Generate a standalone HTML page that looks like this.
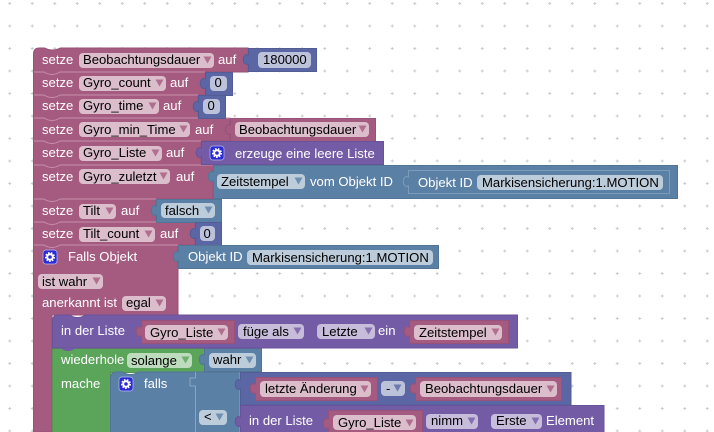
<!DOCTYPE html>
<html><head><meta charset="utf-8"><style>
html,body{margin:0;padding:0;background:#fff;width:714px;height:432px;overflow:hidden}
svg{display:block}
text{font-family:"Liberation Sans",sans-serif;font-size:13.1px;fill:#fff}
.d{fill:#000}
.p{fill:#A55B80;stroke:#96527a}
.m{fill:#5B67A5;stroke:#525d96}
.l{fill:#745BA5;stroke:#68529a}
.g{fill:#5BA55B;stroke:#529652}
.b{fill:#5B80A5;stroke:#527496}
.fp{fill:#DBBDCC}.fm{fill:#BDC2DB}.fl{fill:#C7BDDB}.fg{fill:#BDDBBD}.fb{fill:#BDCCDB}
.ap{fill:#A55B80;opacity:.8}.am{fill:#5B67A5;opacity:.8}.al{fill:#745BA5;opacity:.8}.ag{fill:#5BA55B;opacity:.8}.ab{fill:#5B80A5;opacity:.8}
.n{fill:none;stroke:#c98fab;stroke-width:1}
.s{fill:none;stroke:#8aa6c2;stroke-width:1}
.ic{fill:#2b2bd6;stroke:#b9b9f0;stroke-width:.7}
.gr{fill:none;stroke:#fff;stroke-width:2}
.gd{fill:none;stroke:#fff;stroke-width:2;stroke-dasharray:1.500 1.300}
</style></head><body>
<svg width="714" height="432" viewBox="0 0 714 432" xmlns="http://www.w3.org/2000/svg">
<defs>
<pattern id="grid" x="7.750" y="1.500" width="22.5" height="22.5" patternUnits="userSpaceOnUse">
<path d="M0.500 2H3.500M2 0.500V3.500" stroke="#ccc" stroke-width="1"/>
</pattern>
<path id="ar" d="M0.500 0.500H8.500L4.500 7.500Z"/>
</defs>
<rect width="714" height="432" fill="url(#grid)"/>

<!-- pink stack -->
<path class="p" d="M33.5 54q0-6 6-6h5q8 4 16 0V48H248V72H205V95H198V118H230V141H201V165H213V199H156V222H195V245H178V315H52V432H33.5Z"/>
<path class="n" d="M34 72H44q8 5 16 0H205M34 95H44q8 5 16 0H198M34 118H44q8 5 16 0H230M34 141H44q8 5 16 0H201M34 165H44q8 5 16 0H213M34 199H44q8 5 16 0H156M34 222H44q8 5 16 0H195M34 245H44q8 5 16 0H178"/>

<!-- row 1 -->
<text x="42" y="64">setze</text>
<rect class="fp" x="79" y="53" width="135" height="15" rx="4"/>
<text class="d" x="83" y="64">Beobachtungsdauer</text><use href="#ar" class="ap" x="203" y="56"/>
<text x="218" y="64">auf</text>
<path class="m" d="M248.500 48.500H316.500V71.500H248.500V64c-7 3-7-12 0-9Z"/>
<rect class="fm" x="258" y="52" width="53" height="16" rx="4"/>
<text class="d" x="263" y="64">180000</text>

<!-- row 2 -->
<text x="42" y="87">setze</text>
<rect class="fp" x="79" y="76" width="87" height="15" rx="4"/>
<text class="d" x="83" y="87">Gyro_count</text><use href="#ar" class="ap" x="155" y="79"/>
<text x="170" y="87">auf</text>
<path class="m" d="M205.500 72.500H232.500V95.500H205.500V88c-7 3-7-12 0-9Z"/>
<rect class="fm" x="210" y="76" width="17" height="15" rx="4"/>
<text class="d" x="214.500" y="87">0</text>

<!-- row 3 -->
<text x="42" y="110">setze</text>
<rect class="fp" x="79" y="99" width="80" height="15" rx="4"/>
<text class="d" x="83" y="110">Gyro_time</text><use href="#ar" class="ap" x="148" y="102"/>
<text x="163" y="110">auf</text>
<path class="m" d="M198.500 95.500H225.500V118.500H198.500V111c-7 3-7-12 0-9Z"/>
<rect class="fm" x="203" y="99" width="17" height="15" rx="4"/>
<text class="d" x="207.500" y="110">0</text>

<!-- row 4 -->
<text x="42" y="134">setze</text>
<rect class="fp" x="79" y="122" width="111" height="15" rx="4"/>
<text class="d" x="83" y="134">Gyro_min_Time</text><use href="#ar" class="ap" x="179" y="125"/>
<text x="195" y="134">auf</text>
<path class="p" d="M230.500 118.500H375.500V141.500H230.500V134c-7 3-7-12 0-9Z"/>
<rect class="fp" x="235" y="122" width="134" height="15" rx="4"/>
<text class="d" x="239" y="134">Beobachtungsdauer</text><use href="#ar" class="ap" x="358" y="125"/>

<!-- row 5 -->
<text x="42" y="157">setze</text>
<rect class="fp" x="79" y="146" width="83" height="15" rx="4"/>
<text class="d" x="83" y="157">Gyro_Liste</text><use href="#ar" class="ap" x="151" y="149"/>
<text x="166" y="157">auf</text>
<path class="l" d="M201.500 141.500H383.500V164.500H201.500V157c-7 3-7-12 0-9Z"/>
<rect class="ic" x="210" y="146" width="14" height="14" rx="3"/>
<circle class="gr" cx="217" cy="153" r="2.800"/><circle class="gd" cx="217" cy="153" r="4"/>
<text x="235" y="158">erzeuge eine leere Liste</text>

<!-- row 6 -->
<text x="42" y="181">setze</text>
<rect class="fp" x="79" y="169" width="91" height="15" rx="4"/>
<text class="d" x="83" y="181">Gyro_zuletzt</text><use href="#ar" class="ap" x="159" y="172"/>
<text x="176" y="181">auf</text>
<path class="b" d="M213.500 165.500H677.500V198.500H213.500V181c-7 3-7-12 0-9Z"/>
<rect class="fb" x="217" y="174" width="88" height="15" rx="4"/>
<text class="d" x="221" y="186">Zeitstempel</text><use href="#ar" class="ab" x="294" y="177"/>
<text x="310" y="186">vom Objekt ID</text>
<path class="b" d="M408.500 170.500H669.500V193.500H408.500V186c-7 3-7-12 0-9Z" style="stroke:#7d9cba"/>
<text x="418" y="187">Objekt ID</text>
<rect class="fb" x="477" y="175" width="186" height="15" rx="4"/>
<text class="d" x="482" y="187">Markisensicherung:1.MOTION</text>

<!-- row 7 -->
<text x="42" y="215">setze</text>
<rect class="fp" x="79" y="204" width="37" height="15" rx="4"/>
<text class="d" x="83" y="215">Tilt</text><use href="#ar" class="ap" x="105" y="207"/>
<text x="121" y="215">auf</text>
<path class="b" d="M156.500 199.500H221.500V222.500H156.500V215c-7 3-7-12 0-9Z"/>
<rect class="fb" x="161" y="203" width="54" height="15" rx="4"/>
<text class="d" x="165" y="215">falsch</text><use href="#ar" class="ab" x="204" y="206"/>

<!-- row 8 -->
<text x="42" y="238">setze</text>
<rect class="fp" x="79" y="227" width="76" height="15" rx="4"/>
<text class="d" x="83" y="238">Tilt_count</text><use href="#ar" class="ap" x="144" y="230"/>
<text x="160" y="238">auf</text>
<path class="m" d="M195.500 222.500H221.500V245.500H195.500V238c-7 3-7-12 0-9Z"/>
<rect class="fm" x="200" y="226" width="15" height="15" rx="4"/>
<text class="d" x="203.500" y="238">0</text>

<!-- row 9 -->
<rect class="ic" x="43" y="250" width="14" height="14" rx="3"/>
<circle class="gr" cx="50" cy="257" r="2.800"/><circle class="gd" cx="50" cy="257" r="4"/>
<text x="68" y="261">Falls Objekt</text>
<path class="b" d="M178.500 245.500H438.500V268.500H178.500V261c-7 3-7-12 0-9Z"/>
<text x="188" y="261">Objekt ID</text>
<rect class="fb" x="247" y="250" width="186" height="15" rx="4"/>
<text class="d" x="252" y="262">Markisensicherung:1.MOTION</text>

<!-- row 10/11 -->
<rect class="fp" x="38" y="274" width="65" height="15" rx="4"/>
<text class="d" x="42" y="286">ist wahr</text><use href="#ar" class="ap" x="92" y="277"/>
<text x="42" y="307">anerkannt ist</text>
<rect class="fp" x="122" y="296" width="44" height="15" rx="4"/>
<text class="d" x="126" y="307">egal</text><use href="#ar" class="ap" x="155" y="299"/>

<!-- green -->
<path class="g" d="M52.500 348.500H204.500V372.500H110.500V432.500H52.500Z"/>
<text x="61" y="364">wiederhole</text>
<rect class="fg" x="127" y="353" width="65" height="15" rx="4"/>
<text class="d" x="131" y="365">solange</text><use href="#ar" class="ag" x="181" y="356"/>
<path class="b" d="M204.500 348.500H261.500V371.500H204.500V364c-7 3-7-12 0-9Z"/>
<rect class="fb" x="209" y="353" width="47" height="15" rx="4"/>
<text class="d" x="213" y="364">wahr</text><use href="#ar" class="ab" x="245" y="356"/>
<text x="61" y="388">mache</text>

<!-- purple -->
<path class="l" d="M52.500 321q0-6 6-6h11q8 5 16 0H517.500V348H52.500Z"/>
<path d="M60 348q8 6 16 0Z" fill="#745BA5"/>
<text x="61" y="335">in der Liste</text>
<path class="p" d="M141.500 320.500H234.500V343.500H141.500V336c-7 3-7-12 0-9Z"/>
<rect class="fp" x="145" y="325" width="83" height="15" rx="4"/>
<text class="d" x="150" y="337">Gyro_Liste</text><use href="#ar" class="ap" x="217" y="328"/>
<rect class="fl" x="238" y="324" width="66" height="15" rx="4"/>
<text class="d" x="243" y="336">füge als</text><use href="#ar" class="al" x="293" y="327"/>
<rect class="fl" x="317" y="324" width="58" height="15" rx="4"/>
<text class="d" x="322" y="336">Letzte</text><use href="#ar" class="al" x="364" y="327"/>
<text x="378" y="335">ein</text>
<path class="p" d="M409.500 320.500H508.500V343.500H409.500V336c-7 3-7-12 0-9Z"/>
<rect class="fp" x="414" y="325" width="88" height="15" rx="4"/>
<text class="d" x="419" y="337">Zeitstempel</text><use href="#ar" class="ap" x="491" y="328"/>

<!-- falls -->
<path class="b" d="M110.500 378q0-6 6-6h6q8 5 16 0H240V432.500H110.500Z"/>
<path class="s" d="M195.500 372V378H190V386H195.500V432M240 372V432"/>
<rect class="ic" x="119" y="377" width="14" height="14" rx="3"/>
<circle class="gr" cx="126" cy="384" r="2.800"/><circle class="gd" cx="126" cy="384" r="4"/>
<text x="144" y="388">falls</text>
<rect class="fb" x="199" y="410" width="28" height="15" rx="4"/>
<text class="d" x="204" y="421">&lt;</text><use href="#ar" class="ab" x="215" y="413"/>

<!-- math -->
<path class="m" d="M240.500 372.500H571V405H240.500V389c-7 3-7-12 0-9Z"/>
<path class="p" d="M255.500 377.500H377.500V400.500H255.500V393c-7 3-7-12 0-9Z"/>
<rect class="fp" x="260" y="381" width="111" height="16" rx="4"/>
<text class="d" x="265" y="393">letzte Änderung</text><use href="#ar" class="ap" x="360" y="385"/>
<rect class="fm" x="381" y="381" width="24" height="15" rx="4"/>
<text class="d" x="386" y="393">-</text><use href="#ar" class="am" x="393" y="384"/>
<path class="p" d="M415.500 377.500H561.500V400.500H415.500V393c-7 3-7-12 0-9Z"/>
<rect class="fp" x="420" y="381" width="137" height="16" rx="4"/>
<text class="d" x="425" y="393">Beobachtungsdauer</text><use href="#ar" class="ap" x="546" y="385"/>

<!-- list -->
<path class="l" d="M240.500 405.500H604V432.500H240.500V426c-7 3-7-12 0-9Z"/>
<text x="249" y="425">in der Liste</text>
<path class="p" d="M328.500 410.500H422.500V433H328.500V428c-7 3-7-12 0-9Z"/>
<rect class="fp" x="333" y="415" width="83" height="15" rx="4"/>
<text class="d" x="338" y="427">Gyro_Liste</text><use href="#ar" class="ap" x="405" y="419"/>
<rect class="fl" x="426" y="414" width="52" height="15" rx="4"/>
<text class="d" x="431" y="425">nimm</text><use href="#ar" class="al" x="467" y="417"/>
<rect class="fl" x="491" y="414" width="51" height="15" rx="4"/>
<text class="d" x="496" y="425">Erste</text><use href="#ar" class="al" x="531" y="417"/>
<text x="546" y="425">Element</text>
</svg>
</body></html>
